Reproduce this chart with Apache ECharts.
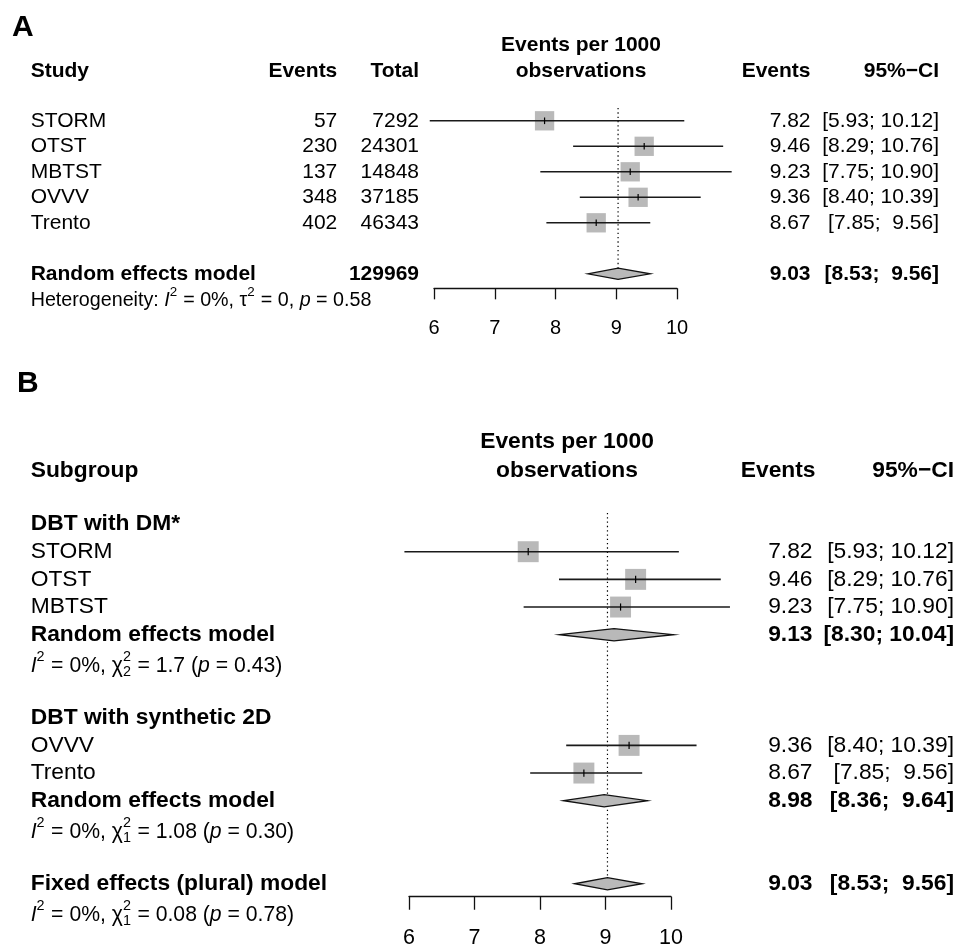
<!DOCTYPE html>
<html><head><meta charset="utf-8">
<script src="https://cdn.jsdelivr.net/npm/echarts@6/dist/echarts.min.js"></script>
<style>html,body{margin:0;padding:0;background:#fff}#c{width:960px;height:947px}</style>
</head><body><div id="c"></div>
<script>
// ---------------- DATA ----------------
const studiesA = ['STORM', 'OTST', 'MBTST', 'OVVV', 'Trento'];
const eventsA = [57, 230, 137, 348, 402];
const totalsA = [7292, 24301, 14848, 37185, 46343];
const estA = [7.82, 9.46, 9.23, 9.36, 8.67];
const lowerA = [5.93, 8.29, 7.75, 8.40, 7.85];
const upperA = [10.12, 10.76, 10.90, 10.39, 9.56];
const pooledA = [9.03, 8.53, 9.56];          // estimate, lower, upper
const pooledTotalA = 129969;
const hetA = { I2: '0%', tau2: '0', p: '0.58' };

const subgroupNames = ['DBT with DM*', 'DBT with synthetic 2D'];
const subgroupStudies = [['STORM', 'OTST', 'MBTST'], ['OVVV', 'Trento']];
const subgroupPooled = [[9.13, 8.30, 10.04], [8.98, 8.36, 9.64]];
const subgroupHet = [
  { I2: '0%', chi2: '1.7', df: '2', p: '0.43' },
  { I2: '0%', chi2: '1.08', df: '1', p: '0.30' }
];
const fixedPooled = [9.03, 8.53, 9.56];
const fixedHet = { I2: '0%', chi2: '0.08', df: '1', p: '0.78' };
const xTicks = [6, 7, 8, 9, 10];

// ---------------- LAYOUT ----------------
const FONT = "'Liberation Sans', Arial, Helvetica, sans-serif";
const LA = { row0: 120.8, step: 25.5, left: 434, right: 677, topIdx: -3.5, axisIdx: 6.57,
  fs: 21, hetFs: 19.7, axFs: 20, tick: 11, margin: 30,
  colName: 30.7, colEvents: 337.3, colTotal: 419, colHead: 581, colEst: 810.5, colCI: 939,
  refTop: -0.5, refBottom: 6 };
const LB = { row0: 551.7, step: 27.67, left: 409, right: 671, topIdx: -4.5, axisIdx: 12.47,
  fs: 22.8, hetFs: 21.2, axFs: 21.5, tick: 13, margin: 30.5,
  colName: 30.7, colHead: 567, colEst: 812.5, colEstHead: 815.5, colCI: 954,
  refTop: -1.4, refBottom: 12 };
const rowsA = { head1: -2.97, head2: -1.96, studies: [0, 1, 2, 3, 4], pooled: 6, het: 7.05, panel: -3.65 };
const rowsB = { head1: -3.97, head2: -2.92, panel: -6.08,
  groups: [{ label: -1, studies: [0, 1, 2], pooled: 3, het: 4.12 },
           { label: 6, studies: [7, 8], pooled: 9, het: 10.12 }],
  fixed: 12, fixedHet: 13.12 };

const SQ_COLOR = '#b9b9b9';
const LINE_COLOR = '#1a1a1a';

// ---------------- HELPERS ----------------
const f2 = v => v.toFixed(2);
const ciStr = (lo, hi) => '[' + f2(lo) + ';' + (hi < 10 ? '  ' : ' ') + f2(hi) + ']';
const mctx = document.createElement('canvas').getContext('2d');
function measure(t, f) {
  mctx.font = f.style + ' ' + f.weight + ' ' + f.size + 'px ' + FONT;
  return mctx.measureText(t).width;
}
function T(row, x, align, t, fs, bold) {
  return { row, x, align, fs, parts: [{ t: String(t), b: !!bold }] };
}
function hetPartsChi(h) {
  return [{ t: 'I', i: true }, { sup: '2' }, { t: ' = ' + h.I2 + ', \u03c7' }, { sup: '2', sub: h.df },
          { t: ' = ' + h.chi2 + ' (' }, { t: 'p', i: true }, { t: ' = ' + h.p + ')' }];
}

function renderCell(cell, y) {
  const fs = cell.fs;
  const items = [];
  let cx = 0;
  cell.parts.forEach(p => {
    if (p.sup !== undefined || p.sub !== undefined) {
      const small = { size: fs * 0.68, weight: 'normal', style: 'normal' };
      let w = 0;
      if (p.sup !== undefined) { items.push({ t: p.sup, x: cx, dy: -0.42 * fs, f: small }); w = Math.max(w, measure(p.sup, small)); }
      if (p.sub !== undefined) { items.push({ t: p.sub, x: cx, dy: 0.32 * fs, f: small }); w = Math.max(w, measure(p.sub, small)); }
      cx += w + fs * 0.03;
    } else {
      const f = { size: fs, weight: p.b ? 'bold' : 'normal', style: p.i ? 'italic' : 'normal' };
      items.push({ t: p.t, x: cx, dy: 0, f });
      cx += measure(p.t, f);
    }
  });
  let x0 = cell.x;
  if (cell.align === 'right') x0 -= cx;
  else if (cell.align === 'center') x0 -= cx / 2;
  return items.map(it => ({
    type: 'text', x: x0 + it.x, y: y + it.dy, silent: true,
    style: { text: it.t, fill: '#000', fontSize: it.f.size, fontFamily: FONT,
      fontWeight: it.f.weight, fontStyle: it.f.style, align: 'left', verticalAlign: 'middle' }
  }));
}

// ---------------- TEXT CELLS ----------------
const cellsA = [];
cellsA.push(T(rowsA.panel, 12, 'left', 'A', 30, true));
cellsA.push(T(rowsA.head1, LA.colHead, 'center', 'Events per 1000', LA.fs, true));
cellsA.push(T(rowsA.head2, LA.colName, 'left', 'Study', LA.fs, true));
cellsA.push(T(rowsA.head2, LA.colEvents, 'right', 'Events', LA.fs, true));
cellsA.push(T(rowsA.head2, LA.colTotal, 'right', 'Total', LA.fs, true));
cellsA.push(T(rowsA.head2, LA.colHead, 'center', 'observations', LA.fs, true));
cellsA.push(T(rowsA.head2, LA.colEst, 'right', 'Events', LA.fs, true));
cellsA.push(T(rowsA.head2, LA.colCI, 'right', '95%\u2212CI', LA.fs, true));
studiesA.forEach((s, i) => {
  const r = rowsA.studies[i];
  cellsA.push(T(r, LA.colName, 'left', s, LA.fs));
  cellsA.push(T(r, LA.colEvents, 'right', eventsA[i], LA.fs));
  cellsA.push(T(r, LA.colTotal, 'right', totalsA[i], LA.fs));
  cellsA.push(T(r, LA.colEst, 'right', f2(estA[i]), LA.fs));
  cellsA.push(T(r, LA.colCI, 'right', ciStr(lowerA[i], upperA[i]), LA.fs));
});
cellsA.push(T(rowsA.pooled, LA.colName, 'left', 'Random effects model', LA.fs, true));
cellsA.push(T(rowsA.pooled, LA.colTotal, 'right', pooledTotalA, LA.fs, true));
cellsA.push(T(rowsA.pooled, LA.colEst, 'right', f2(pooledA[0]), LA.fs, true));
cellsA.push(T(rowsA.pooled, LA.colCI, 'right', ciStr(pooledA[1], pooledA[2]), LA.fs, true));
cellsA.push({ row: rowsA.het, x: LA.colName, align: 'left', fs: LA.hetFs, parts: [
  { t: 'Heterogeneity: ' }, { t: 'I', i: true }, { sup: '2' }, { t: ' = ' + hetA.I2 + ', \u03c4' }, { sup: '2' },
  { t: ' = ' + hetA.tau2 + ', ' }, { t: 'p', i: true }, { t: ' = ' + hetA.p }] });

const cellsB = [];
cellsB.push(T(rowsB.panel, 17, 'left', 'B', 30, true));
cellsB.push(T(rowsB.head1, LB.colHead, 'center', 'Events per 1000', LB.fs, true));
cellsB.push(T(rowsB.head2, LB.colName, 'left', 'Subgroup', LB.fs, true));
cellsB.push(T(rowsB.head2, LB.colHead, 'center', 'observations', LB.fs, true));
cellsB.push(T(rowsB.head2, LB.colEstHead, 'right', 'Events', LB.fs, true));
cellsB.push(T(rowsB.head2, LB.colCI, 'right', '95%\u2212CI', LB.fs, true));
const studyRowsB = [];
const pooledRowsB = [];
subgroupNames.forEach((g, gi) => {
  const gr = rowsB.groups[gi];
  cellsB.push(T(gr.label, LB.colName, 'left', g, LB.fs, true));
  subgroupStudies[gi].forEach((s, k) => {
    const i = studiesA.indexOf(s);
    const r = gr.studies[k];
    studyRowsB.push([estA[i], lowerA[i], upperA[i], r]);
    cellsB.push(T(r, LB.colName, 'left', s, LB.fs));
    cellsB.push(T(r, LB.colEst, 'right', f2(estA[i]), LB.fs));
    cellsB.push(T(r, LB.colCI, 'right', ciStr(lowerA[i], upperA[i]), LB.fs));
  });
  const pp = subgroupPooled[gi];
  pooledRowsB.push([pp[0], pp[1], pp[2], gr.pooled]);
  cellsB.push(T(gr.pooled, LB.colName, 'left', 'Random effects model', LB.fs, true));
  cellsB.push(T(gr.pooled, LB.colEst, 'right', f2(pp[0]), LB.fs, true));
  cellsB.push(T(gr.pooled, LB.colCI, 'right', ciStr(pp[1], pp[2]), LB.fs, true));
  cellsB.push({ row: gr.het, x: LB.colName, align: 'left', fs: LB.hetFs, parts: hetPartsChi(subgroupHet[gi]) });
});
pooledRowsB.push([fixedPooled[0], fixedPooled[1], fixedPooled[2], rowsB.fixed]);
cellsB.push(T(rowsB.fixed, LB.colName, 'left', 'Fixed effects (plural) model', LB.fs, true));
cellsB.push(T(rowsB.fixed, LB.colEst, 'right', f2(fixedPooled[0]), LB.fs, true));
cellsB.push(T(rowsB.fixed, LB.colCI, 'right', ciStr(fixedPooled[1], fixedPooled[2]), LB.fs, true));
cellsB.push({ row: rowsB.fixedHet, x: LB.colName, align: 'left', fs: LB.hetFs, parts: hetPartsChi(fixedHet) });

const studyRowsA = studiesA.map((s, i) => [estA[i], lowerA[i], upperA[i], rowsA.studies[i]]);
const pooledRowsA = [[pooledA[0], pooledA[1], pooledA[2], rowsA.pooled]];

// ---------------- SERIES BUILDERS ----------------
function refSeries(gi, L, est) {
  return { type: 'custom', xAxisIndex: gi, yAxisIndex: gi, clip: false, silent: true, z: 1,
    data: [[est, L.refTop, L.refBottom]], encode: { x: 0, y: [1, 2] },
    renderItem: (p, api) => {
      const a = api.coord([api.value(0), api.value(1)]);
      const b = api.coord([api.value(0), api.value(2)]);
      return { type: 'line', shape: { x1: a[0], y1: a[1], x2: b[0], y2: b[1] },
        style: { stroke: '#000', lineWidth: 1.2, lineDash: [1.3, 3] } };
    } };
}
function studySeries(gi, rows) {
  return { type: 'custom', xAxisIndex: gi, yAxisIndex: gi, clip: false, silent: true, z: 3,
    data: rows, encode: { x: [0, 1, 2], y: 3 },
    renderItem: (p, api) => {
      const r = api.value(3);
      const c = api.coord([api.value(0), r]);
      const lo = api.coord([api.value(1), r]);
      const hi = api.coord([api.value(2), r]);
      const step = api.size([0, 1])[1];
      const s = step * 0.757;
      const h = step * 0.13;
      return { type: 'group', children: [
        { type: 'rect', shape: { x: c[0] - s / 2, y: c[1] - s / 2, width: s, height: s }, style: { fill: SQ_COLOR } },
        { type: 'line', shape: { x1: lo[0], y1: lo[1], x2: hi[0], y2: hi[1] }, style: { stroke: LINE_COLOR, lineWidth: 1.6 } },
        { type: 'line', shape: { x1: c[0], y1: c[1] - h, x2: c[0], y2: c[1] + h }, style: { stroke: '#000', lineWidth: 1.2 } }
      ] };
    } };
}
function diamondSeries(gi, rows) {
  return { type: 'custom', xAxisIndex: gi, yAxisIndex: gi, clip: false, silent: true, z: 4,
    data: rows, encode: { x: [0, 1, 2], y: 3 },
    renderItem: (p, api) => {
      const r = api.value(3);
      const c = api.coord([api.value(0), r]);
      const lo = api.coord([api.value(1), r]);
      const hi = api.coord([api.value(2), r]);
      const h = api.size([0, 1])[1] * 0.22;
      return { type: 'polygon', shape: { points: [[lo[0], c[1]], [c[0], c[1] - h], [hi[0], c[1]], [c[0], c[1] + h]] },
        style: { fill: SQ_COLOR, stroke: '#111', lineWidth: 1.3 } };
    } };
}
function textSeries(gi, cells) {
  return { type: 'custom', xAxisIndex: gi, yAxisIndex: gi, clip: false, silent: true, z: 5,
    data: cells.map(c => [6, c.row]), encode: { x: 0, y: 1 },
    renderItem: (p, api) => {
      const cell = cells[p.dataIndex];
      const y = api.coord([api.value(0), api.value(1)])[1];
      return { type: 'group', children: renderCell(cell, y) };
    } };
}
function gridFor(L) {
  return { left: L.left, width: L.right - L.left,
    top: L.row0 + L.topIdx * L.step, height: (L.axisIdx - L.topIdx) * L.step,
    containLabel: false, outerBoundsMode: 'none' };
}
function xAxisFor(gi, L) {
  return { type: 'value', gridIndex: gi, min: xTicks[0], max: xTicks[xTicks.length - 1], interval: 1,
    position: 'bottom',
    axisLine: { show: true, onZero: false, lineStyle: { color: '#111', width: 1.3 } },
    axisTick: { show: true, inside: false, length: L.tick, lineStyle: { color: '#111', width: 1.3 } },
    axisLabel: { show: true, color: '#000', fontSize: L.axFs, fontFamily: FONT, margin: L.margin },
    splitLine: { show: false } };
}
function yAxisFor(gi, L) {
  return { type: 'value', gridIndex: gi, min: L.topIdx, max: L.axisIdx, inverse: true, show: false,
    splitLine: { show: false } };
}

const chart = echarts.init(document.getElementById('c'), null, { renderer: 'canvas' });
chart.setOption({
  animation: false,
  backgroundColor: '#fff',
  textStyle: { fontFamily: FONT },
  grid: [gridFor(LA), gridFor(LB)],
  xAxis: [xAxisFor(0, LA), xAxisFor(1, LB)],
  yAxis: [yAxisFor(0, LA), yAxisFor(1, LB)],
  series: [
    refSeries(0, LA, pooledA[0]),
    studySeries(0, studyRowsA),
    diamondSeries(0, pooledRowsA),
    textSeries(0, cellsA),
    refSeries(1, LB, fixedPooled[0]),
    studySeries(1, studyRowsB),
    diamondSeries(1, pooledRowsB),
    textSeries(1, cellsB)
  ]
});
</script></body></html>
